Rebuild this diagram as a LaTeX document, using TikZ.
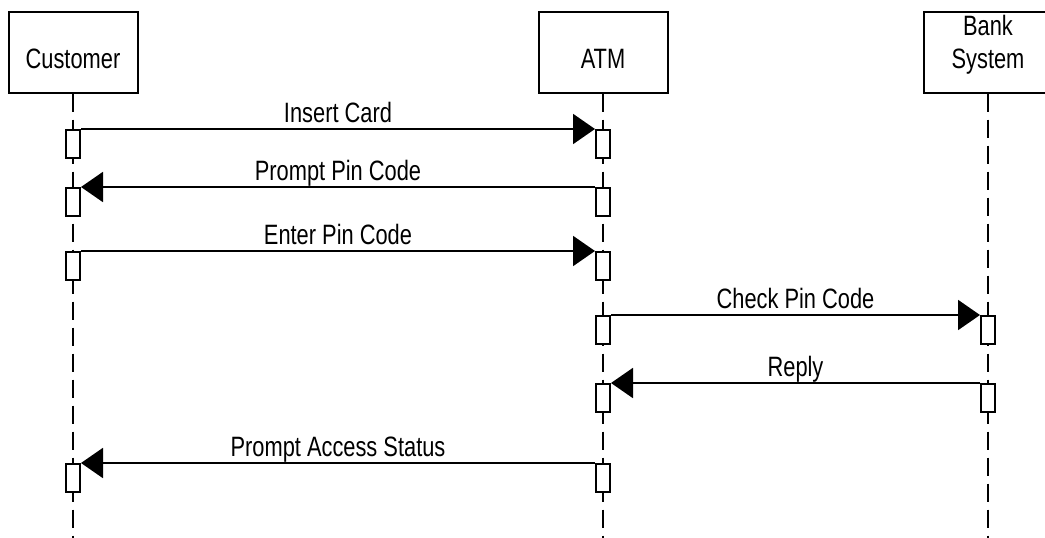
\documentclass[tikz,border=0pt]{standalone}
\usepackage{fontspec}
\setmainfont{Liberation Sans}[FakeStretch=0.78]
\usetikzlibrary{arrows.meta}

\begin{document}
\begin{tikzpicture}[
    x=1pt, y=-1pt,
    every node/.style={font=\fontsize{28}{33}\selectfont, inner sep=0pt},
    head/.style={rectangle, draw, line width=2pt, minimum width=129pt, minimum height=81pt},
    lifeline/.style={line width=2pt, dash pattern=on 18pt off 8pt},
    bar/.style={rectangle, draw, fill=white, line width=2pt, minimum width=14pt, minimum height=28pt, anchor=north},
    msg/.style={line width=2pt, -{Triangle[length=22pt, width=30pt]}},
    msglabel/.style={anchor=base, yshift=7pt}
  ]
  \useasboundingbox (0,0) rectangle (1045,538);

  \node[head] (cust) at (73,52) {};
  \node[head] (atm) at (603,52) {};
  \node[head] (bank) at (988,52) {};
  \node[anchor=base] (custname) at (73,68) {Customer};
  \node[anchor=base] (atmname) at (603,68) {ATM};
  \node[anchor=base, align=center] (bankname) at (988,68) {Bank\\System};

  \coordinate (custend) at (73,538);
  \coordinate (atmend) at (603,538);
  \coordinate (bankend) at (988,538);
  \draw[lifeline] (cust.south) -- (custend);
  \draw[lifeline] (atm.south) -- (atmend);
  \draw[lifeline] (bank.south) -- (bankend);

  \foreach \n/\x/\y in {c1/73/129, a1/603/129, c2/73/187, a2/603/187,
                        c3/73/251, a3/603/251, a4/603/315, b4/988/315,
                        a5/603/383, b5/988/383, c6/73/463, a6/603/463}
    \node[bar] (\n) at (\x,\y) {};

  \draw[msg] (c1.north east) -- (a1.north west) node[msglabel, midway] (m1) {Insert Card};
  \draw[msg] (a2.north west) -- (c2.north east) node[msglabel, midway] (m2) {Prompt Pin Code};
  \draw[msg] (c3.north east) -- (a3.north west) node[msglabel, midway] (m3) {Enter Pin Code};
  \draw[msg] (a4.north east) -- (b4.north west) node[msglabel, midway] (m4) {Check Pin Code};
  \draw[msg] (b5.north west) -- (a5.north east) node[msglabel, midway] (m5) {Reply};
  \draw[msg] (a6.north west) -- (c6.north east) node[msglabel, midway] (m6) {Prompt Access Status};
\end{tikzpicture}
\end{document}
